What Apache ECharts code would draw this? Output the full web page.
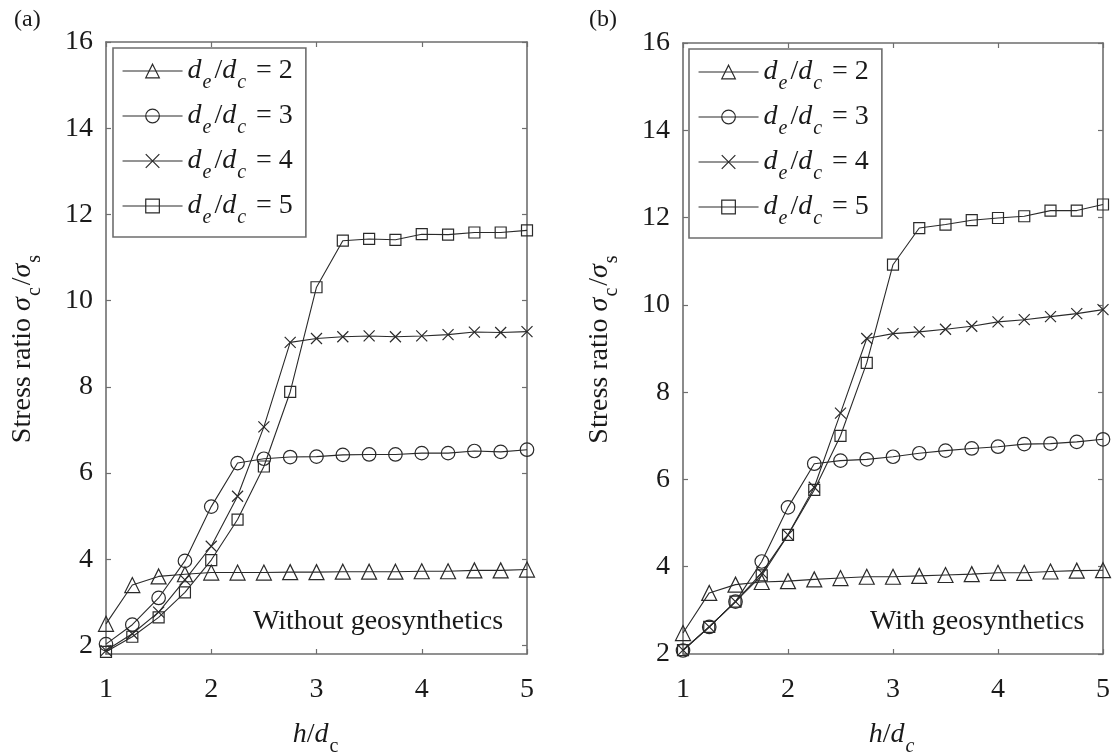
<!DOCTYPE html>
<html>
<head>
<meta charset="utf-8">
<script src="https://cdn.jsdelivr.net/npm/echarts@6/dist/echarts.min.js"></script>
<style>
  html, body { margin: 0; padding: 0; background: #fff; }
  #chart { width: 1118px; height: 755px; }
</style>
</head>
<body>
<div id="chart"></div>
<script>
// Normalised embankment height h/d_c
const hd = [1, 1.25, 1.5, 1.75, 2, 2.25, 2.5, 2.75, 3, 3.25, 3.5, 3.75, 4, 4.25, 4.5, 4.75, 5];

// Area ratio d_e/d_c of each curve
const ratios = [2, 3, 4, 5];

// (a) Without geosynthetics: stress ratio sigma_c/sigma_s
const noGeo2 = [2.50, 3.40, 3.60, 3.65, 3.69, 3.69, 3.69, 3.70, 3.70, 3.71, 3.71, 3.71, 3.72, 3.72, 3.74, 3.74, 3.76];
const noGeo3 = [2.03, 2.48, 3.10, 3.96, 5.22, 6.23, 6.33, 6.37, 6.38, 6.42, 6.43, 6.43, 6.46, 6.46, 6.51, 6.49, 6.54];
const noGeo4 = [1.88, 2.27, 2.77, 3.52, 4.30, 5.46, 7.07, 9.03, 9.12, 9.16, 9.18, 9.16, 9.18, 9.21, 9.27, 9.26, 9.28];
const noGeo5 = [1.85, 2.20, 2.65, 3.23, 3.98, 4.92, 6.15, 7.88, 10.31, 11.39, 11.43, 11.41, 11.54, 11.53, 11.58, 11.58, 11.63];

// (b) With geosynthetics
const geo2 = [2.48, 3.40, 3.59, 3.65, 3.67, 3.71, 3.74, 3.77, 3.77, 3.79, 3.81, 3.83, 3.86, 3.86, 3.89, 3.91, 3.92];
const geo3 = [2.08, 2.62, 3.20, 4.12, 5.36, 6.36, 6.43, 6.46, 6.52, 6.60, 6.66, 6.71, 6.75, 6.81, 6.82, 6.86, 6.92];
const geo4 = [2.09, 2.62, 3.20, 3.86, 4.73, 5.82, 7.52, 9.23, 9.34, 9.38, 9.44, 9.51, 9.61, 9.66, 9.73, 9.80, 9.89];
const geo5 = [2.09, 2.62, 3.20, 3.80, 4.73, 5.76, 7.00, 8.67, 10.92, 11.76, 11.84, 11.94, 11.99, 12.03, 12.16, 12.16, 12.30];

// Axis tick labels
const xTicks = [1, 2, 3, 4, 5];
const yTicks = [2, 4, 6, 8, 10, 12, 14, 16];

const FONT = '"Liberation Serif", "Times New Roman", serif';
const INK = '#1a1a1a';
const AXIS = '#6e6e6e';
const LINE = '#2a2a2a';

const markers = ['triangle', 'circle', 'path://M0,0L10,10M0,10L10,0', 'rect'];
const markerSizes = [15, 13.5, 11, 11];
const names = ratios.map(k => 'de/dc = ' + k);

const rich = {
  i:   { fontFamily: FONT, fontStyle: 'italic', fontSize: 28, lineHeight: 44, verticalAlign: 'middle', color: INK },
  r:   { fontFamily: FONT, fontSize: 28, lineHeight: 44, verticalAlign: 'middle', color: INK },
  si:  { fontFamily: FONT, fontStyle: 'italic', fontSize: 20, lineHeight: 16, verticalAlign: 'bottom', color: INK, padding: [0, 3, 0, 1] },
  su:  { fontFamily: FONT, fontSize: 20, lineHeight: 16, verticalAlign: 'bottom', color: INK, padding: [0, 2, 0, 1] }
};

function pairs(ys) { return hd.map((x, k) => [x, ys[k]]); }

function bottomAxis(gridIndex, subStyle) {
  return {
    type: 'value', gridIndex, position: 'bottom', min: 1, max: 5, interval: 1,
    name: '{i|h}{r|/}{i|d}{' + subStyle + '|c}',
    nameLocation: 'middle', nameGap: 59,
    nameTextStyle: { rich },
    axisLine: { show: true, onZero: false, lineStyle: { color: AXIS, width: 1.6 } },
    axisTick: { show: true, inside: true, length: 5, customValues: xTicks, lineStyle: { color: AXIS, width: 1.2 } },
    axisLabel: { fontFamily: FONT, fontSize: 28, color: INK, margin: 22, customValues: xTicks },
    splitLine: { show: false }
  };
}
function topAxis(gridIndex) {
  return {
    type: 'value', gridIndex, position: 'top', min: 1, max: 5, interval: 1,
    axisLine: { show: true, onZero: false, lineStyle: { color: AXIS, width: 1.6 } },
    axisTick: { show: true, inside: true, length: 5, lineStyle: { color: AXIS, width: 1.2 } },
    axisLabel: { show: false }, splitLine: { show: false }
  };
}
function leftAxis(gridIndex, yMin) {
  return {
    type: 'value', gridIndex, position: 'left', min: yMin, max: 16,
    name: '{r|Stress ratio }{i|σ}{su|c}{r|/}{i|σ}{su|s}',
    nameLocation: 'middle', nameRotate: 90, nameGap: 61,
    nameTextStyle: { rich },
    axisLine: { show: true, onZero: false, lineStyle: { color: AXIS, width: 1.6 } },
    axisTick: { show: true, inside: true, length: 5, customValues: yTicks, lineStyle: { color: AXIS, width: 1.2 } },
    axisLabel: { fontFamily: FONT, fontSize: 28, color: INK, margin: 13, customValues: yTicks },
    splitLine: { show: false }
  };
}
function rightAxis(gridIndex, yMin) {
  return {
    type: 'value', gridIndex, position: 'right', min: yMin, max: 16,
    axisLine: { show: true, onZero: false, lineStyle: { color: AXIS, width: 1.6 } },
    axisTick: { show: true, inside: true, length: 5, customValues: yTicks, lineStyle: { color: AXIS, width: 1.2 } },
    axisLabel: { show: false, customValues: yTicks }, splitLine: { show: false }
  };
}

function panelSeries(sets, axisIndex) {
  return sets.map((ys, k) => ({
    name: names[k], type: 'line',
    xAxisIndex: axisIndex, yAxisIndex: axisIndex,
    data: pairs(ys),
    symbol: markers[k], symbolSize: markerSizes[k],
    showAllSymbol: true,
    lineStyle: { color: LINE, width: 1.1 },
    itemStyle: { color: 'transparent', borderColor: LINE, borderWidth: 1.2 },
    emphasis: { disabled: true },
    z: 3
  }));
}

function legendFor(left, top) {
  return {
    orient: 'vertical', left, top,
    data: names,
    selectedMode: false,
    itemWidth: 60, itemHeight: 17, itemGap: 9,
    padding: [9, 13, 9, 9],
    backgroundColor: '#fff',
    borderColor: AXIS, borderWidth: 1.6, borderRadius: 0,
    itemStyle: { color: 'transparent', borderColor: LINE, borderWidth: 1.2 },
    lineStyle: { color: LINE, width: 1.1 },
    formatter: name => {
      const k = name.split('= ')[1];
      return '{i|d}{si|e}{r|/}{i|d}{si|c}{r| = ' + k + '}';
    },
    textStyle: { rich }
  };
}

const chart = echarts.init(document.getElementById('chart'), null, { renderer: 'canvas' });
chart.setOption({
  animation: false,
  backgroundColor: '#fff',
  grid: [
    { left: 106, top: 42, width: 421, height: 612, outerBoundsMode: 'none', containLabel: false },
    { left: 683, top: 43, width: 420, height: 611, outerBoundsMode: 'none', containLabel: false }
  ],
  xAxis: [bottomAxis(0, 'su'), topAxis(0), bottomAxis(1, 'si'), topAxis(1)],
  yAxis: [leftAxis(0, 1.8), rightAxis(0, 1.8), leftAxis(1, 2), rightAxis(1, 2)],
  legend: [legendFor(113, 48), legendFor(689, 49)],
  series: [
    ...panelSeries([noGeo2, noGeo3, noGeo4, noGeo5], 0),
    ...panelSeries([geo2, geo3, geo4, geo5], 2)
  ],
  graphic: [
    { type: 'text', left: 14, top: 8, style: { text: '(a)', font: '24px ' + FONT, fill: INK } },
    { type: 'text', left: 589, top: 8, style: { text: '(b)', font: '24px ' + FONT, fill: INK } },
    { type: 'text', left: 253, top: 608, style: { text: 'Without geosynthetics', font: '28px ' + FONT, fill: INK } },
    { type: 'text', left: 870, top: 608, style: { text: 'With geosynthetics', font: '28px ' + FONT, fill: INK } }
  ]
});
</script>
</body>
</html>
